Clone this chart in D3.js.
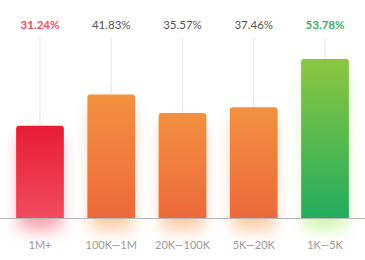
<!DOCTYPE html>
<html>
<head>
<meta charset="utf-8">
<script src="https://cdn.jsdelivr.net/npm/d3@7"></script>
<style>
  body { margin: 0; background: #fff; }
  svg { display: block; font-family: Lato, "Open Sans", sans-serif; }
</style>
</head>
<body>
<svg width="365" height="260"></svg>
<script>
// chart data
var categories = ["1M+", "100K\u20141M", "20K\u2014100K", "5K\u201420K", "1K\u20145K"];
var values = [31.24, 41.83, 35.57, 37.46, 53.78];
var kinds = ["bad", "mid", "mid", "mid", "good"];

var palette = {
  bad:  { top: "#e81d33", bottom: "#f24b60", glow: "#f04a5e", label: "#f0505a", weight: 700 },
  mid:  { top: "#f39140", bottom: "#ec693b", glow: "#f7984a", label: "#555555", weight: 400 },
  good: { top: "#8cc63f", bottom: "#22ad5e", glow: "#a6ec62", label: "#35b36a", weight: 700 }
};

var svg = d3.select("svg"),
  width = +svg.attr("width"),
  baseY = 218;

var x = d3.scaleBand().domain(categories).range([4, 361]).paddingInner(0.33).paddingOuter(0.17);
var y = d3.scaleLinear().domain([0, 60]).range([baseY, baseY - 177.3]);

var defs = svg.append("defs");
Object.keys(palette).forEach(function(k) {
  var g = defs.append("linearGradient").attr("id", "grad-" + k)
    .attr("x1", 0).attr("y1", 0).attr("x2", 0).attr("y2", 1);
  g.append("stop").attr("offset", "0%").attr("stop-color", palette[k].top);
  g.append("stop").attr("offset", "100%").attr("stop-color", palette[k].bottom);
});
defs.append("filter").attr("id", "glow")
  .attr("x", "-80%").attr("y", "-40%").attr("width", "260%").attr("height", "180%")
  .append("feGaussianBlur").attr("stdDeviation", 8);

function topRounded(x0, y0, w, h, r) {
  return "M" + x0 + "," + (y0 + h) +
    "V" + (y0 + r) + "Q" + x0 + "," + y0 + " " + (x0 + r) + "," + y0 +
    "H" + (x0 + w - r) + "Q" + (x0 + w) + "," + y0 + " " + (x0 + w) + "," + (y0 + r) +
    "V" + (y0 + h) + "Z";
}

// guide lines from labels down to bars
svg.selectAll(".guide").data(values).enter().append("line")
  .attr("x1", (d, i) => x(categories[i]) + x.bandwidth() / 2)
  .attr("x2", (d, i) => x(categories[i]) + x.bandwidth() / 2)
  .attr("y1", 38)
  .attr("y2", d => y(d))
  .attr("stroke", "#e6e6e6").attr("stroke-width", 1);

// glow behind bars
svg.selectAll(".glow").data(values).enter().append("rect")
  .attr("x", (d, i) => x(categories[i]) + 3)
  .attr("y", d => y(d) + 12)
  .attr("width", x.bandwidth() - 6)
  .attr("height", d => baseY - y(d))
  .attr("fill", (d, i) => palette[kinds[i]].glow)
  .attr("opacity", 0.5)
  .attr("filter", "url(#glow)");

// bars
svg.selectAll(".bar").data(values).enter().append("path")
  .attr("d", (d, i) => topRounded(x(categories[i]), y(d), x.bandwidth(), baseY - y(d), 3))
  .attr("fill", (d, i) => "url(#grad-" + kinds[i] + ")");

// baseline
svg.append("line")
  .attr("x1", 0).attr("x2", width)
  .attr("y1", baseY + 0.5).attr("y2", baseY + 0.5)
  .attr("stroke", "#b5b5b5").attr("stroke-width", 1);

// value labels
svg.selectAll(".val").data(values).enter().append("text")
  .attr("x", (d, i) => x(categories[i]) + x.bandwidth() / 2)
  .attr("y", 29)
  .attr("text-anchor", "middle")
  .attr("font-size", 11.5)
  .attr("font-weight", (d, i) => palette[kinds[i]].weight)
  .attr("fill", (d, i) => palette[kinds[i]].label)
  .text(d => d.toFixed(2) + "%");

// category labels
var xAxis = svg.append("g").attr("transform", "translate(0," + baseY + ")")
  .call(d3.axisBottom(x).tickSize(0).tickPadding(23));
xAxis.select(".domain").remove();
xAxis.selectAll("text")
  .attr("font-family", "Lato, 'Open Sans', sans-serif")
  .attr("font-size", 11)
  .attr("fill", "#9a9a9a");
</script>
</body>
</html>
